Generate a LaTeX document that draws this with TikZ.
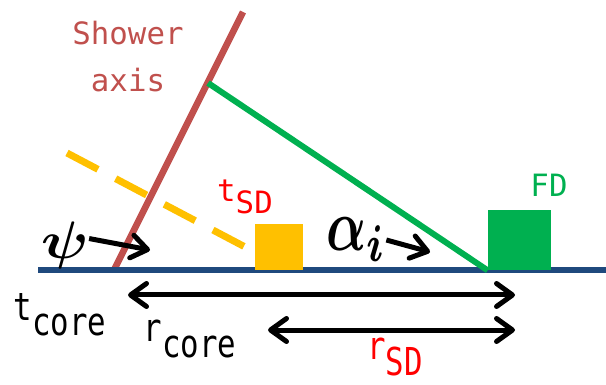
\documentclass[tikz,border=0pt]{standalone}
\usepackage{bm}
\usepackage{fontspec}
\usetikzlibrary{arrows.meta, positioning}
\newfontfamily\labelfont{DejaVu Sans Mono}
\definecolor{axisred}{HTML}{C0504D}
\definecolor{fdgreen}{HTML}{00B050}
\definecolor{sdyellow}{HTML}{FFC000}
\definecolor{groundblue}{HTML}{1F497D}
\newcommand{\sublbl}[2]{#1\raisebox{-0.4em}{#2}}
\newcommand{\tall}[1]{\scalebox{1}[1.25]{#1}}

\begin{document}
\begin{tikzpicture}[x=0.2mm, y=-0.2mm]
  \tikzset{
    lbl/.style={font=\labelfont\fontsize{17.5}{26.7}\selectfont, inner sep=0pt},
    ground/.style={draw=groundblue, line width=1.2mm},
    axisline/.style={draw=axisred, line width=1.3mm},
    sightline/.style={draw=fdgreen, line width=1.2mm},
    front/.style={draw=sdyellow, line width=1.4mm, dash pattern=on 7mm off 4mm},
    sdbox/.style={fill=sdyellow, inner sep=0pt, minimum width=9.6mm, minimum height=9.2mm},
    fdbox/.style={fill=fdgreen, inner sep=0pt, minimum width=12.6mm, minimum height=12mm},
    pointer/.style={line width=1mm, -{Straight Barb[length=3.2mm, width=4.6mm, round]}},
    span/.style={line width=1mm,
      {Straight Barb[length=3.2mm, width=4.6mm, round]}-{Straight Barb[length=3.2mm, width=4.6mm, round]}}
  }
  \useasboundingbox (0,0) rectangle (606,385);

  \coordinate (f0) at (67,153);
  \coordinate (f1) at (247,248);
  \draw[front] (f0) -- (f1);

  \coordinate (a0) at (114,270);
  \coordinate (a1) at (243,12);
  \draw[axisline] (a0) -- (a1);

  \coordinate (g0) at (38,270);
  \coordinate (g1) at (606,270);
  \draw[ground] (g0) -- (g1);

  \node[sdbox] (sd) at (279,247) {};
  \node[fdbox] (fd) at (519.5,240) {};

  \coordinate (foot) at (208,83);
  \draw[sightline] (foot) -- (fd.south west);

  \node[lbl, text=axisred, align=center] (axlbl) at (128,57) {Shower\\axis};
  \node[lbl, text=red] (tsd) at (245,197) {\sublbl{t}{SD}};
  \node[lbl, text=fdgreen] (fdlbl) at (549,185) {FD};
  \node[lbl] (tcore) at (60,315) {\tall{\sublbl{t}{core}}};
  \node[lbl] (rcore) at (190,339) {\tall{\sublbl{r}{core}}};
  \node[lbl, text=red] (rsd) at (395,357) {\tall{\sublbl{r}{SD}}};

  \node[inner sep=0pt] (psi) at (65,245) {\scalebox{3.4}[3]{$\bm{\psi}$}};
  \node[inner sep=0pt] (alpha) at (356,240) {\scalebox{3}[4.2]{$\bm{\alpha_i}$}};

  \coordinate (psitip) at (150,250);
  \coordinate (alphatip) at (430,252);
  \draw[pointer] (psi.15) -- (psitip);
  \draw[pointer] (alpha.east) -- (alphatip);

  \coordinate (c0) at (128,295);
  \coordinate (c1) at (515,295);
  \coordinate (s0) at (268,330);
  \coordinate (s1) at (515,330);
  \draw[span] (c0) -- (c1);
  \draw[span] (s0) -- (s1);
\end{tikzpicture}
\end{document}
